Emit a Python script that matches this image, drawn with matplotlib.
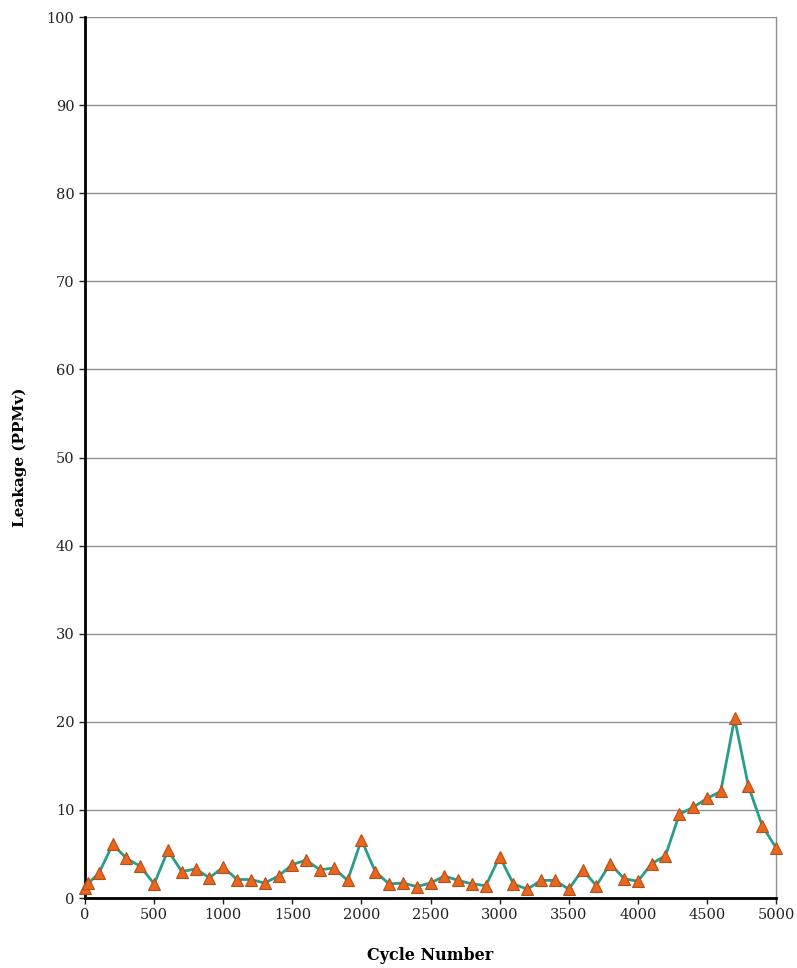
import matplotlib
matplotlib.use('Agg')  # noqa
import matplotlib.pyplot as plt

# leakage readings, every 100 cycles (plus an extra early reading)
cycles = [0, 25, 100, 200, 300, 400, 500, 600, 700, 800, 900, 1000,
          1100, 1200, 1300, 1400, 1500, 1600, 1700, 1800, 1900, 2000,
          2100, 2200, 2300, 2400, 2500, 2600, 2700, 2800, 2900, 3000,
          3100, 3200, 3300, 3400, 3500, 3600, 3700, 3800, 3900, 4000,
          4100, 4200, 4300, 4400, 4500, 4600, 4700, 4800, 4900, 5000]
leakage = [1.1, 1.7, 2.8, 6.1, 4.5, 3.6, 1.6, 5.4, 3.0, 3.3, 2.3, 3.5,
           2.1, 2.1, 1.7, 2.5, 3.8, 4.3, 3.2, 3.4, 2.0, 6.6,
           3.0, 1.6, 1.7, 1.3, 1.7, 2.5, 2.0, 1.6, 1.4, 4.7,
           1.6, 1.0, 2.0, 2.0, 1.0, 3.2, 1.4, 3.9, 2.2, 1.9,
           3.9, 4.8, 9.5, 10.3, 11.3, 12.1, 20.4, 12.7, 8.2, 5.7]

x_ticks = list(range(0, 5001, 500))
y_ticks = list(range(0, 101, 10))

fig = plt.figure(figsize=(7.97, 9.68), dpi=100)
ax = fig.add_axes([0.1067, 0.0723, 0.867, 0.9101])

ax.plot(cycles, leakage, color='#2a9d8a', lw=2.0, zorder=3, clip_on=False,
        marker='^', markersize=9, markerfacecolor='#e8661e',
        markeredgecolor='#b4501a', markeredgewidth=0.8)

ax.set_xlim(0, 5000)
ax.set_ylim(0, 100)
ax.set_xticks(x_ticks)
ax.set_yticks(y_ticks)
ax.yaxis.grid(True, color='#909090', lw=1.0)
ax.set_axisbelow(True)

ax.spines['left'].set_linewidth(2.0)
ax.spines['bottom'].set_linewidth(2.0)
ax.spines['top'].set_visible(False)
ax.spines['right'].set_color('#909090')
ax.spines['right'].set_linewidth(1.0)

ax.tick_params(axis='both', direction='out', length=4, width=1,
               labelsize=10.5, colors='#222222')
for lab in ax.get_xticklabels() + ax.get_yticklabels():
    lab.set_family('DejaVu Serif')

ax.set_xlabel('Cycle Number', family='DejaVu Serif', fontweight='bold',
              fontsize=11.5, labelpad=18)
ax.set_ylabel('Leakage (PPMv)', family='DejaVu Serif', fontweight='bold',
              fontsize=11, labelpad=14)

plt.savefig('out.png', dpi=100)
